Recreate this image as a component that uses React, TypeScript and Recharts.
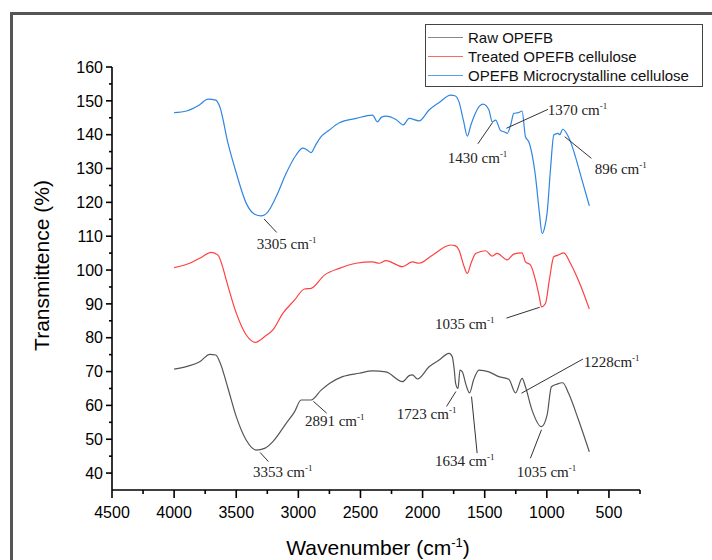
import React from "react";
import {
  LineChart,
  Line,
  XAxis,
  YAxis,
  ReferenceLine,
  ReferenceDot,
} from "recharts";

// ---- spectra (wavenumber cm-1 / transmittance %) ----

const rawWave = [4000, 3888, 3794, 3713, 3665, 3633, 3566, 3499, 3419, 3339, 3272, 3205, 3098, 3031, 2978, 2897, 2817, 2750, 2644, 2510, 2403, 2295, 2162, 2108, 2082, 2042, 1948, 1867, 1787, 1761, 1745, 1734, 1715, 1699, 1680, 1650, 1622, 1590, 1546, 1466, 1386, 1306, 1252, 1199, 1172, 1119, 1043, 998, 963, 918, 872, 824, 744, 658];
const rawT = [70.7, 71.6, 72.9, 75.1, 74.9, 72.9, 65, 56.6, 49.7, 46.8, 47.3, 49.3, 54.7, 58.1, 61.6, 61.6, 64.5, 66.5, 68.5, 69.5, 70.2, 69.9, 67, 68.8, 69, 67.8, 71.4, 73.4, 75.4, 74.4, 70.5, 66.5, 65, 70.4, 69.9, 66, 63.7, 67.5, 70.4, 69.9, 68.5, 67.7, 63.7, 68, 65.5, 58.6, 53.7, 57.1, 65.5, 66.3, 66.7, 63.5, 55.6, 46.3];

const treatedWave = [4000, 3874, 3794, 3700, 3647, 3610, 3580, 3499, 3419, 3344, 3300, 3272, 3205, 3125, 3031, 2951, 2897, 2790, 2670, 2536, 2403, 2349, 2295, 2162, 2082, 2028, 1921, 1774, 1740, 1707, 1670, 1640, 1610, 1573, 1493, 1440, 1400, 1319, 1266, 1199, 1172, 1132, 1091, 1060, 1043, 1011, 980, 944, 910, 864, 810, 770, 730, 658];
const treatedT = [100.7, 102, 103.5, 105.2, 104.4, 101, 97, 87.2, 80.8, 78.6, 79.5, 80.3, 82.3, 87.2, 91.1, 94.4, 94.6, 98.5, 100.5, 102, 102.4, 102, 102.8, 101, 102.4, 102, 104.4, 107.4, 107.2, 105.9, 101.5, 99, 102, 104.9, 105.7, 104.1, 104.9, 103, 104.7, 105.1, 102.4, 101.5, 97, 92, 89.1, 90.1, 97, 103.9, 104.4, 105.1, 102, 99, 95.6, 88.5];

const mccWave = [4000, 3900, 3800, 3727, 3665, 3633, 3566, 3499, 3419, 3352, 3299, 3245, 3178, 3098, 3018, 2964, 2930, 2897, 2860, 2817, 2750, 2670, 2536, 2403, 2363, 2330, 2295, 2215, 2156, 2108, 2028, 1948, 1867, 1774, 1740, 1707, 1670, 1640, 1610, 1587, 1540, 1514, 1466, 1440, 1412, 1372, 1340, 1319, 1290, 1266, 1230, 1199, 1172, 1145, 1091, 1060, 1038, 1015, 998, 970, 944, 910, 896, 872, 838, 800, 770, 720, 658];
const mccT = [146.5, 147, 148.7, 150.5, 150.2, 148.3, 137.4, 128.6, 119.7, 116.5, 116, 117.2, 121.7, 128.6, 134, 136, 135.5, 134.7, 137, 139.4, 141.4, 143.5, 144.8, 145.8, 143.8, 145.2, 145.5, 144.5, 142.9, 144.8, 144.1, 147.3, 149.5, 151.7, 151.5, 149.7, 144, 139.6, 143, 145.3, 148.5, 149, 147.3, 143.8, 144.3, 141.2, 140.8, 140.4, 143, 146.3, 146.5, 147, 139.4, 137.9, 127.6, 117, 110.8, 113, 116.8, 130, 139.9, 140.4, 140, 141.6, 140.2, 137, 133.5, 127, 119];

const xTicks = [4500, 4250, 4000, 3750, 3500, 3250, 3000, 2750, 2500, 2250, 2000, 1750, 1500, 1250, 1000, 750, 500, 250];
const yTicks = [40, 45, 50, 55, 60, 65, 70, 75, 80, 85, 90, 95, 100, 105, 110, 115, 120, 125, 130, 135, 140, 145, 150, 155, 160];

const seriesNames = ["Raw OPEFB", "Treated OPEFB cellulose", "OPEFB Microcrystalline cellulose"];
const seriesColors = ["#555555", "#ff4040", "#2f86e0"];

// peak labels: text anchor (w, t) and leader line from -> to, in data units
const peakLabels = ["3305", "1430", "1370", "896", "1035", "1228", "1723", "1634", "1035", "2891", "3353"];
const peakSpace = [true, true, true, true, true, false, true, true, true, true, true];
const peakText = [[3334, 106.3], [1797, 131.7], [993, 145.8], [615, 128.4], [1901, 82.6], [703, 71.4], [2207, 56], [1901, 42.2], [1243, 38.9], [2947, 54], [3366, 38.9]];
const peakFrom = [[3276, 115.1], [1555, 137.3], [1325, 141.9], [856, 139.4], [1325, 85.8], [709, 73.7], [1807, 59.7], [1561, 45.9], [1132, 44.4], [2879, 61.2], [3308, 46.1]];
const peakTo = [[3174, 111.1], [1437, 143.6], [990, 147.5], [641, 133], [1057, 89], [1204, 63.6], [1732, 64.1], [1606, 62.6], [1043, 52.8], [2772, 57.7], [3241, 43.4]];

const rawData = rawWave.map((w, i) => ({ w, t: rawT[i] }));
const treatedData = treatedWave.map((w, i) => ({ w, t: treatedT[i] }));
const mccData = mccWave.map((w, i) => ({ w, t: mccT[i] }));

const sans = "'Liberation Sans', Arial, sans-serif";
const serif = "'Liberation Serif', 'Times New Roman', serif";

const XTick = (props: any) => {
  const { x, y, payload } = props;
  const major = payload.value % 500 === 0;
  return (
    <g>
      <line x1={x} x2={x} y1={y} y2={y + (major ? 8 : 4)} stroke="#000" strokeWidth={1.6} />
      {major && (
        <text x={x} y={y + 28} textAnchor="middle" fontFamily={sans} fontSize={16} fill="#000">
          {payload.value}
        </text>
      )}
    </g>
  );
};

const YTick = (props: any) => {
  const { x, y, payload } = props;
  const major = payload.value % 10 === 0;
  return (
    <g>
      <line x1={x - (major ? 6 : 3)} x2={x} y1={y} y2={y} stroke="#000" strokeWidth={1.6} />
      {major && (
        <text x={x - 9} y={y} dy="0.36em" textAnchor="end" fontFamily={sans} fontSize={16} fill="#000">
          {payload.value}
        </text>
      )}
    </g>
  );
};

export default function App() {
  return (
    <div style={{ position: "absolute", left: 0, top: 0, width: 712, height: 560, overflow: "hidden", background: "#fff" }}>
      {/* outer frame */}
      <div style={{ position: "absolute", left: 10, top: 12, width: 800, height: 700, border: "3px solid #555" }} />

      <LineChart
        width={712}
        height={560}
        margin={{ top: 67, right: 72, left: 52, bottom: 40 }}
        style={{ position: "absolute", left: 0, top: 0 }}
      >
        <XAxis
          dataKey="w"
          type="number"
          domain={[250, 4500]}
          reversed
          allowDataOverflow
          ticks={xTicks}
          interval={0}
          tickSize={0}
          tickMargin={0}
          tick={<XTick />}
          height={30}
          axisLine={{ stroke: "#000", strokeWidth: 1.6 }}
          label={{
            content: (p: any) => {
              const vb = p.viewBox;
              return (
                <text x={vb.x + vb.width / 2 + 2} y={vb.y + 65} textAnchor="middle" fontFamily={sans} fontSize={21} fill="#000">
                  Wavenumber (cm<tspan dy={-8} fontSize={13}>-1</tspan><tspan dy={8}>)</tspan>
                </text>
              );
            },
          }}
        />
        <YAxis
          type="number"
          domain={[35, 160]}
          allowDataOverflow
          ticks={yTicks}
          interval={0}
          tickSize={0}
          tickMargin={0}
          tick={<YTick />}
          width={60}
          axisLine={{ stroke: "#000", strokeWidth: 1.6 }}
          label={{
            content: (p: any) => {
              const vb = p.viewBox;
              const cy = vb.y + vb.height / 2 - 13;
              return (
                <text x={41} y={cy} transform={`rotate(-90 41 ${cy})`} textAnchor="middle" dominantBaseline="central" fontFamily={sans} fontSize={21} fill="#000">
                  Transmittence (%)
                </text>
              );
            },
          }}
        />

        <Line data={rawData} dataKey="t" type="monotone" stroke={seriesColors[0]} strokeWidth={1.2} dot={false} activeDot={false} isAnimationActive={false} />
        <Line data={treatedData} dataKey="t" type="monotone" stroke={seriesColors[1]} strokeWidth={1.2} dot={false} activeDot={false} isAnimationActive={false} />
        <Line data={mccData} dataKey="t" type="monotone" stroke={seriesColors[2]} strokeWidth={1.2} dot={false} activeDot={false} isAnimationActive={false} />

        {peakLabels.map((lab, i) => (
          <ReferenceLine
            key={`ln-${i}`}
            segment={[
              { x: peakFrom[i][0], y: peakFrom[i][1] },
              { x: peakTo[i][0], y: peakTo[i][1] },
            ]}
            stroke="#333"
            strokeWidth={1}
          />
        ))}
        {peakLabels.map((lab, i) => (
          <ReferenceDot
            key={`tx-${i}`}
            x={peakText[i][0]}
            y={peakText[i][1]}
            r={0}
            shape={(p: any) => (
              <text x={p.cx} y={p.cy} fontFamily={serif} fontSize={15} fill="#222">
                {lab + (peakSpace[i] ? " " : "")}cm<tspan dy={-6} fontSize={9}>-1</tspan>
              </text>
            )}
          />
        ))}
      </LineChart>

      {/* legend */}
      <div
        style={{
          position: "absolute",
          left: 425,
          top: 24,
          width: 276,
          height: 61,
          border: "1px solid #444",
          background: "#fff",
          fontFamily: sans,
          fontSize: 15,
          color: "#111",
        }}
      >
        {seriesNames.map((name, i) => (
          <div key={name} style={{ position: "absolute", left: 0, top: 3 + i * 19, height: 19, display: "flex", alignItems: "center", whiteSpace: "nowrap" }}>
            <div style={{ width: 35, height: 1.5, marginLeft: 2, background: seriesColors[i], opacity: i === 0 ? 0.7 : 0.8 }} />
            <span style={{ marginLeft: 5 }}>{name}</span>
          </div>
        ))}
      </div>
    </div>
  );
}
